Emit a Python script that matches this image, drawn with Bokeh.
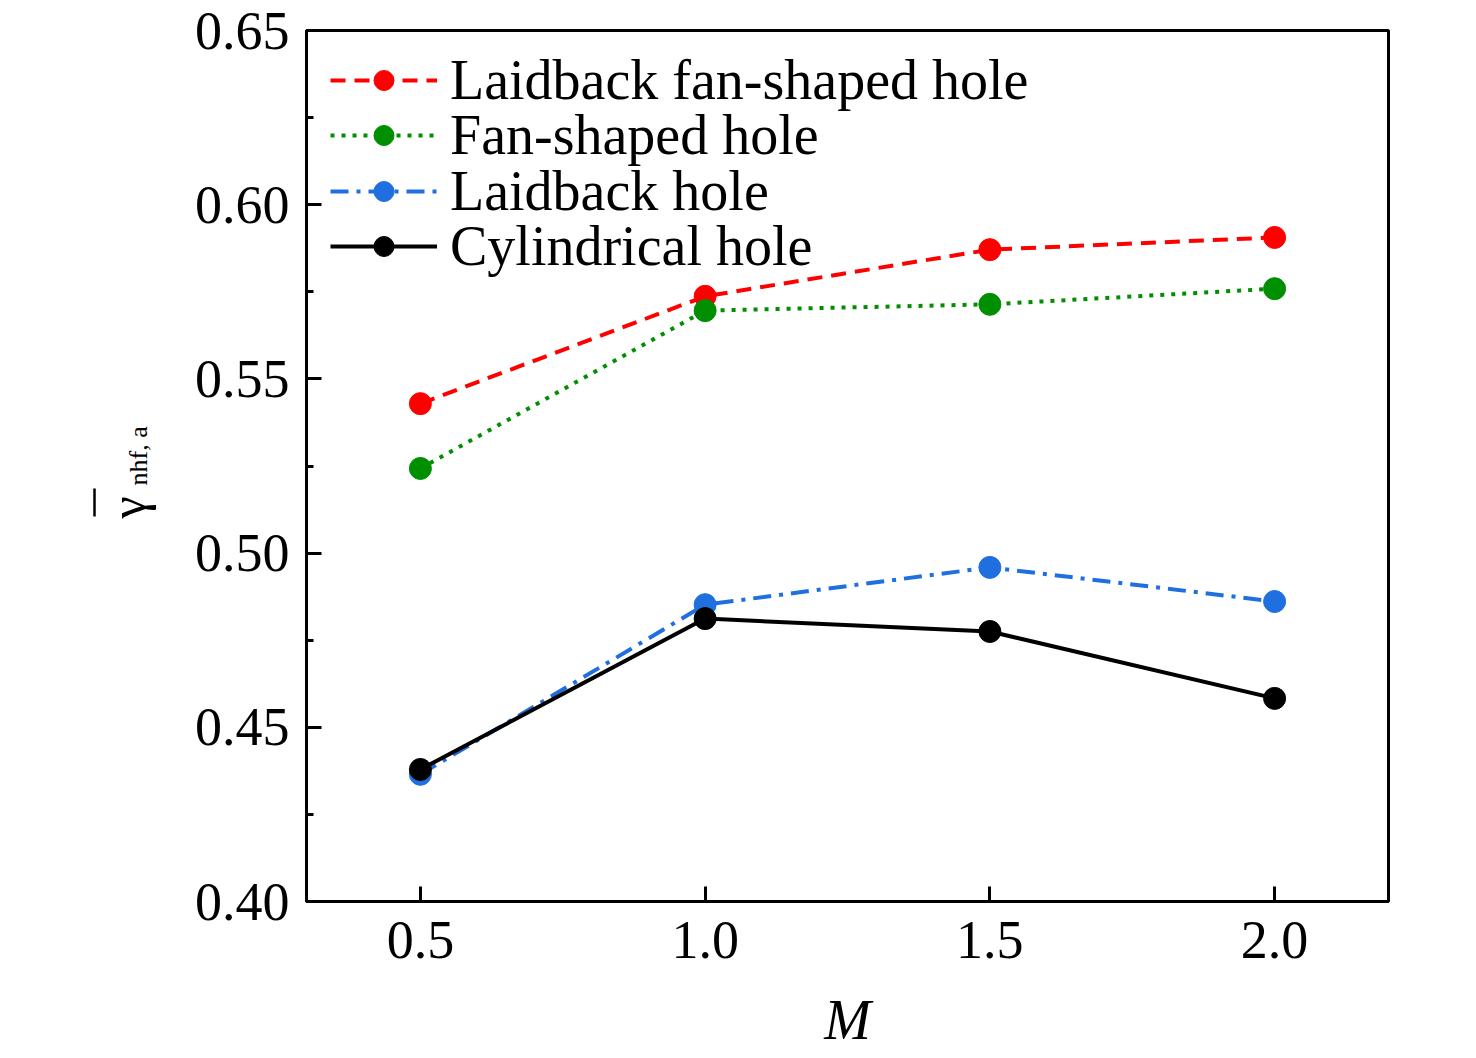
import math
from bokeh.plotting import figure
from bokeh.layouts import row
from bokeh.models import (ColumnDataSource, FixedTicker, NumeralTickFormatter, Legend,
                          LegendItem, Range1d)
from bokeh.core.properties import value
from bokeh.embed import file_html
from bokeh.resources import INLINE

# ---- data ----
M_values = [0.5, 1.0, 1.5, 2.0]
laidback_fan = [0.5429, 0.5737, 0.5871, 0.5906]
fan_shaped = [0.5243, 0.5696, 0.5714, 0.5759]
laidback = [0.4365, 0.4852, 0.4959, 0.4861]
cylindrical = [0.4379, 0.4812, 0.4775, 0.4583]
series_names = ["Laidback fan-shaped hole", "Fan-shaped hole", "Laidback hole", "Cylindrical hole"]
y_ticks = [0.40, 0.45, 0.50, 0.55, 0.60, 0.65]
y_minor_ticks = [0.425, 0.475, 0.525, 0.575, 0.625]
x_ticks = [0.5, 1.0, 1.5, 2.0]
y_title_main = "γ"
y_title_sub = "nhf, a"
x_title = "M"

FONT = "Liberation Serif"
TOTAL_H = 1050
LEFT_W = 160
FRAME_W, FRAME_H = 1082, 871
TOP = 30
BOTTOM = TOP + FRAME_H   # page y of the frame bottom

# ---- main plot ----
p = figure(frame_width=FRAME_W, frame_height=FRAME_H,
           x_range=Range1d(0.3, 2.2), y_range=Range1d(0.40, 0.65),
           output_backend="svg", toolbar_location=None,
           min_border_left=306 - LEFT_W, min_border_right=80, min_border_top=TOP,
           min_border_bottom=TOTAL_H - TOP - FRAME_H)
p.background_fill_color = "white"
p.border_fill_color = "white"
p.grid.visible = False
p.outline_line_color = "black"
p.outline_line_width = 3

styles = [
    (laidback_fan, "#FF0000", "15 9"),
    (fan_shaped, "#008F00", "4 7"),
    (laidback, "#1F6FE0", "18 8 4 8"),
    (cylindrical, "#000000", "solid"),
]
# one single-row legend per series so rows can be packed tightly (55 px apart)
ROW_PITCH = 55.4
FIRST_ROW = 80 - TOP
HALF_ROW = 32
for i, ((vals, color, dash), name) in enumerate(zip(styles, series_names)):
    src = ColumnDataSource(dict(x=M_values, y=vals))
    ln = p.line("x", "y", source=src, line_color=color, line_width=4, line_dash=dash)
    sc = p.scatter("x", "y", source=src, marker="circle", size=22, fill_color=color,
                   line_color=color)
    centre = FIRST_ROW + ROW_PITCH * i
    lg = Legend(items=[LegendItem(label=name, renderers=[ln, sc])],
                location=(24, FRAME_H - centre - HALF_ROW), margin=0, padding=0, spacing=0,
                label_text_font=FONT, label_text_font_size="56px", label_text_color="black",
                glyph_width=107, glyph_height=50, label_height=50, label_standoff=13,
                border_line_color=None, background_fill_alpha=0)
    p.add_layout(lg, "center")

for ax in (p.xaxis[0], p.yaxis[0]):
    ax.axis_line_width = 3
    ax.axis_line_color = "black"
    ax.major_tick_in = 15
    ax.major_tick_out = 0
    ax.major_tick_line_width = 3
    ax.minor_tick_line_width = 3
    ax.major_label_text_font = FONT
    ax.major_label_text_font_size = "54px"
    ax.major_label_text_color = "black"

p.xaxis.ticker = FixedTicker(ticks=x_ticks)
p.xaxis.formatter = NumeralTickFormatter(format="0.0")
p.xaxis.minor_tick_in = 0
p.xaxis.minor_tick_out = 0
p.xaxis.major_label_standoff = 20
p.xaxis.axis_label = x_title
p.xaxis.axis_label_text_font = FONT
p.xaxis.axis_label_text_font_style = "italic"
p.xaxis.axis_label_text_font_size = "56px"
p.xaxis.axis_label_text_color = "black"
p.xaxis.axis_label_standoff = 28

p.yaxis.ticker = FixedTicker(ticks=y_ticks, minor_ticks=y_minor_ticks)
p.yaxis.formatter = NumeralTickFormatter(format="0.00")
p.yaxis.minor_tick_in = 7
p.yaxis.minor_tick_out = 0
p.yaxis.major_label_standoff = 17

# ---- left strip holding the rotated y-axis title ----
# Its frame is aligned with the main frame (page y 30..901); coordinates are pixels
# measured upward from the frame bottom.
q = figure(title=None, frame_width=LEFT_W, frame_height=FRAME_H,
           x_range=Range1d(0, LEFT_W), y_range=Range1d(0, FRAME_H),
           output_backend="svg", toolbar_location=None, x_axis_location=None,
           y_axis_location=None, min_border_left=0, min_border_right=0,
           min_border_top=0, min_border_bottom=0)
q.grid.visible = False
q.outline_line_color = None
q.background_fill_color = "white"
q.border_fill_color = "white"
q.text(x=[127], y=[BOTTOM - 518], text=[y_title_main], angle=math.pi / 2,
       text_font=value(FONT), text_font_size=value("50px"), text_color="black",
       text_baseline="alphabetic", text_align="left")
q.text(x=[138], y=[BOTTOM - 485], text=[y_title_sub], angle=math.pi / 2,
       text_font=value(FONT), text_font_size=value("26px"), text_color="black",
       text_baseline="alphabetic", text_align="left")
q.segment(x0=[94], y0=[BOTTOM - 516], x1=[94], y1=[BOTTOM - 488],
          line_color="black", line_width=2.5)

layout = row(q, p, spacing=0)
open("out.html", "w").write(file_html(layout, INLINE))
